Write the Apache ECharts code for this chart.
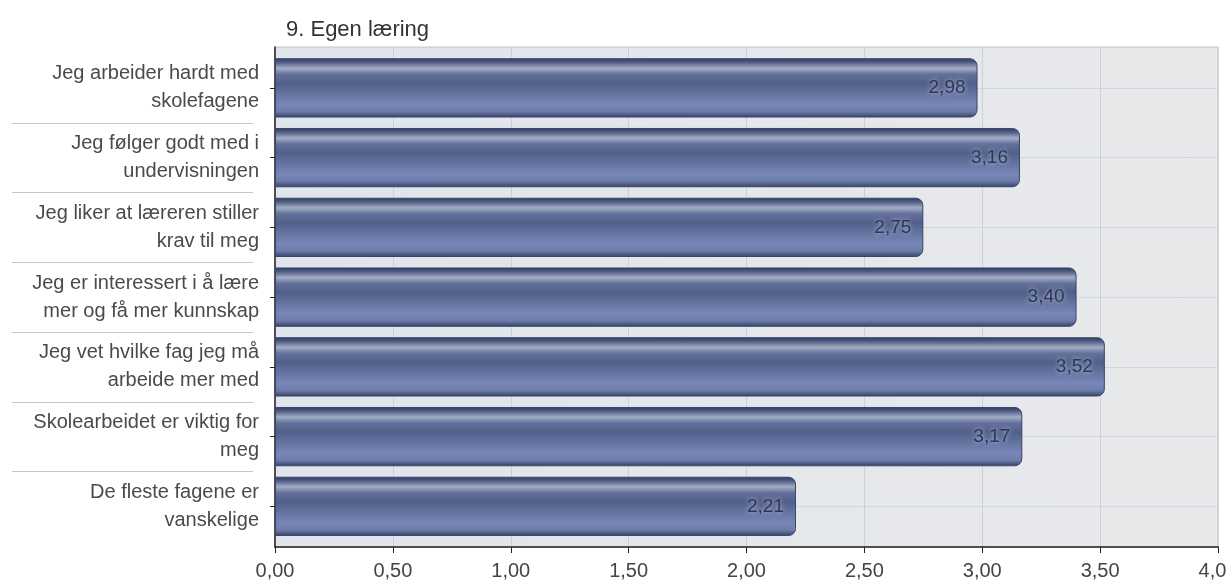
<!DOCTYPE html>
<html>
<head>
<meta charset="utf-8">
<script src="https://cdn.jsdelivr.net/npm/echarts@6/dist/echarts.min.js"></script>
<style>
  html, body { margin: 0; padding: 0; background: #fff; }
  #chart { width: 1227px; height: 585px; }
</style>
</head>
<body>
<div id="chart"></div>
<script>
// survey item labels, top to bottom
const categories = [
  'Jeg arbeider hardt med\nskolefagene',
  'Jeg følger godt med i\nundervisningen',
  'Jeg liker at læreren stiller\nkrav til meg',
  'Jeg er interessert i å lære\nmer og få mer kunnskap',
  'Jeg vet hvilke fag jeg må\narbeide mer med',
  'Skolearbeidet er viktig for\nmeg',
  'De fleste fagene er\nvanskelige'
];
const values = [2.98, 3.16, 2.75, 3.40, 3.52, 3.17, 2.21];
const xMin = 0;
const xMax = 4;
const xStep = 0.5;
const titleText = '9. Egen læring';

const fmt = v => Number(v).toFixed(2).replace('.', ',');

// layout
const LEFT = 275, RIGHT = 9;
const FRAME_TOP = 47, FRAME_BOTTOM = 38;   // plot frame
const BAND_TOP = 53, PITCH = 69.75;        // where the categories sit
const N = categories.length;
const H = 585;
const bandBottom = H - (BAND_TOP + PITCH * N);

const font = "'Liberation Sans', Arial, sans-serif";

const barFill = new echarts.graphic.LinearGradient(0, 0, 0, 1, [
  { offset: 0, color: '#2f3a5c' },
  { offset: 0.07, color: '#505d85' },
  { offset: 0.17, color: '#a4adc6' },
  { offset: 0.27, color: '#63729c' },
  { offset: 0.42, color: '#515f89' },
  { offset: 0.78, color: '#7887b8' },
  { offset: 0.9, color: '#6c7ba8' },
  { offset: 1, color: '#343f65' }
]);

const gridBase = { left: LEFT, right: RIGHT, outerBoundsMode: 'none', containLabel: false };

const chart = echarts.init(document.getElementById('chart'));

const option = {
  animation: false,
  title: {
    text: titleText,
    left: 281,
    top: 14,
    textStyle: { fontFamily: font, fontSize: 22, fontWeight: 'normal', color: '#333' }
  },
  grid: [
    // frame + value axis
    Object.assign({}, gridBase, { top: FRAME_TOP, bottom: FRAME_BOTTOM, show: true,
      backgroundColor: new echarts.graphic.LinearGradient(0, 0, 1, 0, [
        { offset: 0, color: '#dfe5eb' }, { offset: 1, color: '#e9e9eb' }
      ]),
      borderColor: '#c4c4c4', borderWidth: 1 }),
    // bars
    Object.assign({}, gridBase, { top: BAND_TOP, bottom: bandBottom }),
    // horizontal lines through category centres
    Object.assign({}, gridBase, { top: BAND_TOP + PITCH / 2, bottom: bandBottom + PITCH / 2 }),
    // separators between the category labels
    Object.assign({}, gridBase, { top: BAND_TOP + PITCH, bottom: bandBottom + PITCH })
  ],
  xAxis: [
    { type: 'value', gridIndex: 0, min: xMin, max: xMax, interval: xStep,
      axisLine: { show: true, lineStyle: { color: '#222', width: 1.5 } },
      axisTick: { show: true, length: 6, lineStyle: { color: '#222' } },
      axisLabel: { formatter: fmt, margin: 14, fontFamily: font, fontSize: 20, color: '#444' },
      splitLine: { show: true, lineStyle: { color: '#cdd1d7', width: 1 } } },
    { type: 'value', gridIndex: 1, min: xMin, max: xMax, show: false },
    { type: 'value', gridIndex: 2, min: xMin, max: xMax, show: false },
    { type: 'value', gridIndex: 3, min: xMin, max: xMax, show: false }
  ],
  yAxis: [
    { type: 'value', gridIndex: 0, min: 0, max: 1,
      axisLine: { show: true, lineStyle: { color: '#222', width: 1.5 } },
      axisTick: { show: false }, axisLabel: { show: false }, splitLine: { show: false } },
    { type: 'category', gridIndex: 1, data: categories, inverse: true,
      axisLine: { show: false },
      axisTick: { show: true, alignWithLabel: true, length: 5, lineStyle: { color: '#222' } },
      axisLabel: { margin: 16, fontFamily: font, fontSize: 20, lineHeight: 28, color: '#4a4a4a', align: 'right' },
      splitLine: { show: false } },
    { type: 'value', gridIndex: 2, min: 0, max: N - 1, interval: 1, inverse: true,
      axisLine: { show: false }, axisTick: { show: false }, axisLabel: { show: false },
      splitLine: { show: true, lineStyle: { color: '#d3d6db', width: 1 } } },
    { type: 'value', gridIndex: 3, min: 0, max: N - 2, interval: 1, inverse: true,
      position: 'left', offset: 22,
      axisLine: { show: false, onZero: false }, axisLabel: { show: false }, splitLine: { show: false },
      axisTick: { show: true, length: 241, lineStyle: { color: '#c6c6c6', width: 1 } } }
  ],
  series: [
    {
      type: 'bar',
      xAxisIndex: 1,
      yAxisIndex: 1,
      data: values,
      barWidth: '85%',
      z: 3,
      itemStyle: {
        color: barFill,
        borderColor: '#3a456c',
        borderWidth: 1,
        borderRadius: [0, 7, 7, 0]
      },
      label: {
        show: true,
        position: 'insideRight',
        distance: 12,
        formatter: p => fmt(p.value),
        fontFamily: font,
        fontSize: 19,
        color: '#2c3658',
        textShadowColor: 'rgba(230,235,250,0.7)',
        textShadowBlur: 4
      }
    }
  ]
};

chart.setOption(option);
</script>
</body>
</html>
